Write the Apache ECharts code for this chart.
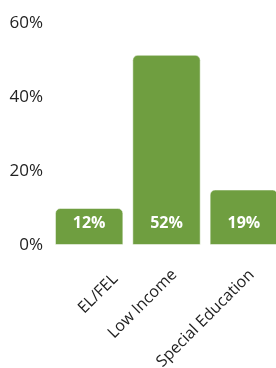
<!DOCTYPE html>
<html>
<head>
<meta charset="utf-8">
<script src="https://cdn.jsdelivr.net/npm/echarts@6/dist/echarts.min.js"></script>
<style>
  html, body { margin: 0; padding: 0; background: #fff; }
  #chart { width: 276px; height: 368px; }
</style>
</head>
<body>
<div id="chart"></div>
<script>
// 分类柱状图
const categories = ['EL/FEL', 'Low Income', 'Special Education']
// bar heights as drawn in the picture
const values = [10, 51.4, 15]
// label text shown on the bars
const valueLabels = ['12%', '52%', '19%']
const yTicks = [0, 20, 40, 60]

const myChart = echarts.init(document.getElementById('chart'))
const option = {
  animation: false,
  grid: {
    left: 50.5,
    right: -6.5,
    top: 23,
    bottom: 123,
    outerBoundsMode: 'none',
  },
  xAxis: {
    type: 'category',
    data: categories,
    axisLine: { show: false },
    axisTick: { show: false },
    axisLabel: {
      rotate: 45,
      margin: 35,
      padding: [0, -11, 0, 0],
      fontFamily: 'Open Sans',
      fontSize: 16,
      color: '#222',
      // EL/FEL sits further right in the original
      formatter: (v, i) => (i === 0 ? '{shift|' + v + '}' : v),
      rich: {
        shift: {
          padding: [32, -10, 0, 0],
          fontFamily: 'Open Sans',
          fontSize: 16,
          color: '#222',
        },
      },
    },
  },
  yAxis: {
    type: 'value',
    min: yTicks[0],
    max: yTicks[yTicks.length - 1],
    interval: 20,
    splitLine: { show: false },
    axisLabel: {
      margin: 7.5,
      padding: [0, 0, 6, 0],
      fontFamily: 'Open Sans',
      fontSize: 17,
      color: '#222',
      formatter: (v) => v + '%',
    },
  },
  series: [
    {
      type: 'bar',
      data: values,
      barCategoryGap: '11.6%',
      itemStyle: {
        color: '#6f9e40',
        borderColor: 'rgba(255,255,255,0.5)',
        borderWidth: 1,
        borderRadius: [5, 5, 0, 0],
      },
      label: {
        show: true,
        position: 'insideBottom',
        distance: 13.5,
        fontFamily: 'Open Sans',
        fontSize: 16,
        fontWeight: 'bold',
        color: '#fff',
        formatter: (p) => valueLabels[p.dataIndex],
      },
    },
  ],
}
option && myChart.setOption(option)
</script>
</body>
</html>
